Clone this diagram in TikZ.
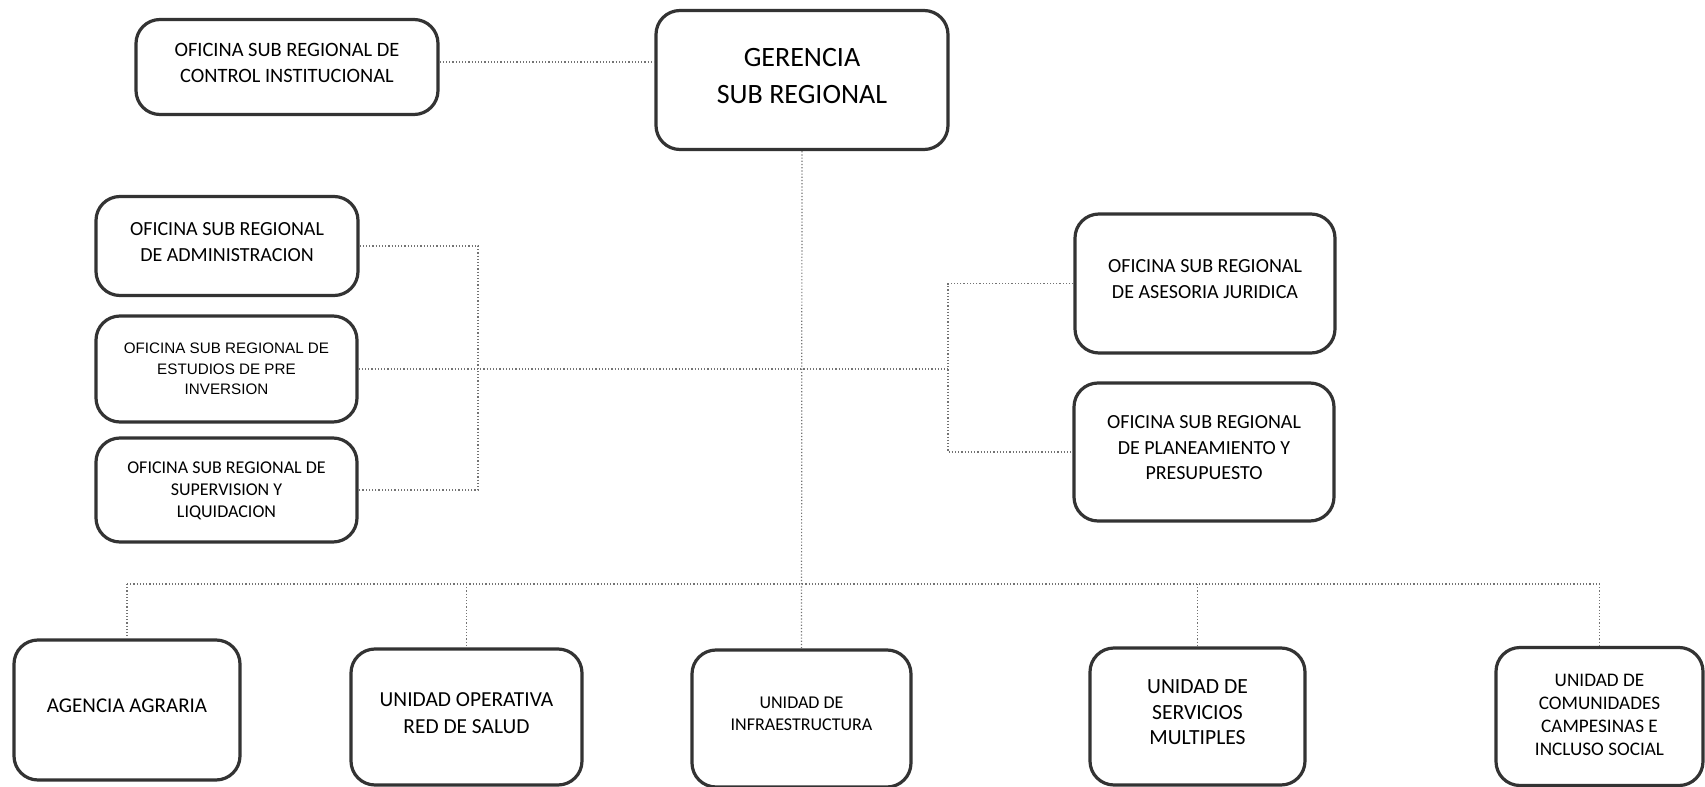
\documentclass[tikz,border=0pt]{standalone}
\usepackage{fontspec}
\setmainfont{Carlito}
\newfontfamily\arialfont{Liberation Sans}
\tikzset{
  oficina/.style={draw=black!80, line width=1.6pt, rounded corners=12pt, align=center, inner sep=0pt, text depth=4.4pt},
  linea/.style={densely dotted, black!55, line width=0.6pt}
}
\newcommand{\tam}[2]{\fontsize{#1}{#2}\selectfont}
\begin{document}
\begin{tikzpicture}[x=0.5pt,y=-0.5pt]
\useasboundingbox (0,0) rectangle (1705,787);
\node[oficina, minimum width=151pt, minimum height=47.5pt, font=\tam{10.2}{13}] (ctrl) at (287,67) {OFICINA SUB REGIONAL DE\\CONTROL INSTITUCIONAL};
\node[oficina, minimum width=146pt, minimum height=69.5pt, font=\tam{14}{18.5}] (ger) at (802,80) {GERENCIA\\SUB REGIONAL};
\node[oficina, minimum width=131pt, minimum height=49.5pt, font=\tam{10}{13}] (adm) at (227,246) {OFICINA SUB REGIONAL\\DE ADMINISTRACION};
\node[oficina, minimum width=130.5pt, minimum height=53pt, font=\arialfont\tam{7.6}{10.3}, text depth=0pt] (est) at (226.5,369) {OFICINA SUB REGIONAL DE\\ESTUDIOS DE PRE\\INVERSION};
\node[oficina, minimum width=130.5pt, minimum height=52pt, font=\tam{9}{11}, text depth=0pt] (sup) at (226.5,490) {OFICINA SUB REGIONAL DE\\SUPERVISION Y\\LIQUIDACION};
\node[oficina, minimum width=130pt, minimum height=69.5pt, font=\tam{10}{13}] (ase) at (1205,283.5) {OFICINA SUB REGIONAL\\DE ASESORIA JURIDICA};
\node[oficina, minimum width=130pt, minimum height=69pt, font=\tam{10}{12.8}] (pla) at (1204,452) {OFICINA SUB REGIONAL\\DE PLANEAMIENTO Y\\PRESUPUESTO};
\node[oficina, minimum width=113pt, minimum height=70pt, font=\tam{10.5}{13}] (agr) at (127,710) {AGENCIA AGRARIA};
\node[oficina, minimum width=115.5pt, minimum height=68pt, font=\tam{10.7}{13.5}] (sal) at (466.5,717) {UNIDAD OPERATIVA\\RED DE SALUD};
\node[oficina, minimum width=109.5pt, minimum height=68.5pt, font=\tam{9}{11}] (inf) at (801.5,718.5) {UNIDAD DE\\INFRAESTRUCTURA};
\node[oficina, minimum width=107.5pt, minimum height=68.5pt, font=\tam{10.8}{12.8}] (ser) at (1197.5,716.5) {UNIDAD DE\\SERVICIOS\\MULTIPLES};
\node[oficina, minimum width=103.5pt, minimum height=69pt, font=\tam{9.6}{11.5}, text depth=2pt] (com) at (1599.5,716.5) {UNIDAD DE\\COMUNIDADES\\CAMPESINAS E\\INCLUSO SOCIAL};
\coordinate (lb) at (478,369);
\coordinate (rb) at (948,369);
\coordinate (bus) at (0,584);
\draw[linea] ([yshift=2.5pt]ctrl.east) -- ([yshift=2.5pt]ctrl.east -| ger.west);
\draw[linea] (ger.south) -- (inf.north);
\draw[linea] (adm.east) -| (lb) |- (sup.east);
\draw[linea] (est.east) -- (rb);
\draw[linea] (ase.west) -| (rb) |- (pla.west);
\draw[linea] (agr.north |- bus) -- (com.north |- bus);
\foreach \n in {agr,sal,ser,com}
  \draw[linea] (\n.north |- bus) -- (\n.north);
\end{tikzpicture}
\end{document}
